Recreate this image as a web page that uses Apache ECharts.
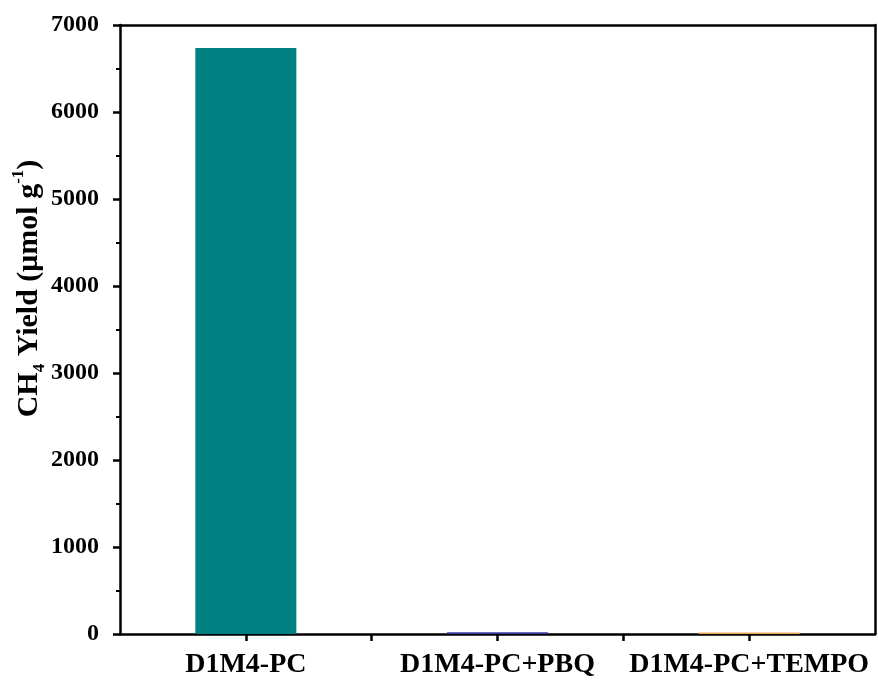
<!DOCTYPE html>
<html>
<head>
<meta charset="utf-8">
<script src="https://cdn.jsdelivr.net/npm/echarts@6/dist/echarts.min.js"></script>
<style>
  html, body { margin: 0; padding: 0; background: #ffffff; }
  #chart { width: 878px; height: 686px; }
</style>
</head>
<body>
<div id="chart"></div>
<script>
// Samples and their CH4 yield (µmol g^-1)
const categories = ['D1M4-PC', 'D1M4-PC+PBQ', 'D1M4-PC+TEMPO'];
const yieldValues = [6735, 20, 18];
const barColors = ['#008080', '#3c3ca0', '#f0a860'];
const yTicks = [0, 1000, 2000, 3000, 4000, 5000, 6000, 7000];

const serif = '"Liberation Serif", "Times New Roman", serif';
const lineColor = '#000000';
const lineW = 2.5;

const chart = echarts.init(document.getElementById('chart'), null, { renderer: 'canvas' });

const barData = yieldValues.map((v, i) => ({
  value: [i + 1, v],
  itemStyle: { color: barColors[i] }
}));

const option = {
  backgroundColor: '#ffffff',
  animation: false,
  grid: { left: 120, right: 3, top: 25, bottom: 52, containLabel: false, outerBoundsMode: 'none' },
  xAxis: [
    {
      type: 'value',
      min: 0.5,
      max: categories.length + 0.5,
      interval: 0.5,
      position: 'bottom',
      axisLine: { show: true, onZero: false, lineStyle: { color: lineColor, width: lineW } },
      axisTick: { show: true, inside: false, length: 7, lineStyle: { color: lineColor, width: lineW } },
      axisLabel: {
        margin: 17,
        fontFamily: serif,
        fontWeight: 'bold',
        fontSize: 28,
        color: '#000',
        showMinLabel: false,
        showMaxLabel: false,
        formatter: v => (Number.isInteger(v) && v >= 1 && v <= categories.length) ? categories[v - 1] : ''
      },
      splitLine: { show: false }
    },
    {
      type: 'value',
      min: 0.5,
      max: categories.length + 0.5,
      position: 'top',
      axisLine: { show: true, onZero: false, lineStyle: { color: lineColor, width: lineW } },
      axisTick: { show: false },
      axisLabel: { show: false },
      splitLine: { show: false }
    }
  ],
  yAxis: [
    {
      type: 'value',
      min: yTicks[0],
      max: yTicks[yTicks.length - 1],
      interval: 1000,
      position: 'left',
      name: '{a|CH}{sub|4}{a| Yield (μmol g}{sup|-1}{a|)}',
      nameLocation: 'middle',
      nameGap: 72,
      nameMoveOverlap: false,
      nameRotate: 90,
      nameTextStyle: {
        padding: [0, 0, 0, 82],
        rich: {
          a: { fontFamily: serif, fontWeight: 'bold', fontSize: 30, lineHeight: 38, color: '#000', verticalAlign: 'middle' },
          sub: { fontFamily: serif, fontWeight: 'bold', fontSize: 17, lineHeight: 17, color: '#000', verticalAlign: 'bottom' },
          sup: { fontFamily: serif, fontWeight: 'bold', fontSize: 17, lineHeight: 17, color: '#000', verticalAlign: 'top' }
        }
      },
      axisLine: { show: true, onZero: false, lineStyle: { color: lineColor, width: lineW } },
      axisTick: { show: true, inside: false, length: 7, lineStyle: { color: lineColor, width: lineW } },
      minorTick: { show: true, splitNumber: 2, length: 4, lineStyle: { color: lineColor, width: 2 } },
      axisLabel: {
        margin: 21,
        fontFamily: serif,
        fontWeight: 'bold',
        fontSize: 24,
        color: '#000',
        formatter: v => String(v)
      },
      splitLine: { show: false },
      minorSplitLine: { show: false }
    },
    {
      type: 'value',
      min: yTicks[0],
      max: yTicks[yTicks.length - 1],
      position: 'right',
      axisLine: { show: true, onZero: false, lineStyle: { color: lineColor, width: lineW } },
      axisTick: { show: false },
      axisLabel: { show: false },
      splitLine: { show: false }
    }
  ],
  series: [
    {
      type: 'bar',
      xAxisIndex: 0,
      yAxisIndex: 0,
      barWidth: 101,
      data: barData,
      z: 1
    }
  ]
};

chart.setOption(option);
</script>
</body>
</html>
